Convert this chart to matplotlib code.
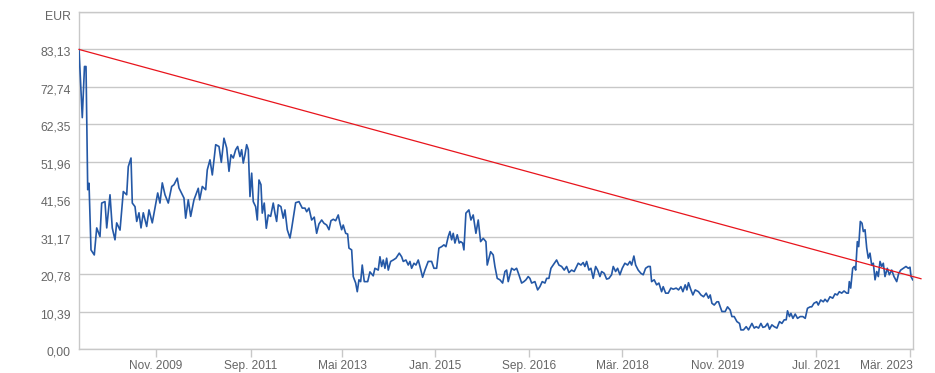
import numpy as np
import matplotlib
matplotlib.use("Agg")
import matplotlib.pyplot as plt
import matplotlib.transforms as mtrans

# Kursdaten (Zeit als Dezimaljahr, Kurs in EUR)
years = [
    2008.480, 2008.538, 2008.577, 2008.604, 2008.634, 2008.657, 2008.692, 2008.750,
    2008.793, 2008.851, 2008.881, 2008.939, 2008.970, 2009.028, 2009.068, 2009.116,
    2009.146, 2009.205, 2009.263, 2009.323, 2009.351, 2009.399, 2009.422, 2009.470,
    2009.500, 2009.540, 2009.576, 2009.616, 2009.676, 2009.717, 2009.775, 2009.823,
    2009.871, 2009.911, 2009.952, 2010.000, 2010.058, 2010.118, 2010.159, 2010.217,
    2010.247, 2010.335, 2010.365, 2010.411, 2010.454, 2010.512, 2010.588, 2010.613,
    2010.659, 2010.719, 2010.747, 2010.795, 2010.836, 2010.896, 2010.954, 2010.995,
    2011.042, 2011.090, 2011.131, 2011.166, 2011.207, 2011.249, 2011.284, 2011.325,
    2011.355, 2011.383, 2011.413, 2011.443, 2011.472, 2011.502, 2011.532, 2011.560,
    2011.602, 2011.631, 2011.661, 2011.696, 2011.719, 2011.754, 2011.790, 2011.825,
    2011.867, 2011.913, 2011.943, 2011.973, 2012.002, 2012.049, 2012.090, 2012.120,
    2012.161, 2012.209, 2012.239, 2012.267, 2012.309, 2012.368, 2012.426, 2012.474,
    2012.504, 2012.544, 2012.592, 2012.638, 2012.680, 2012.721, 2012.769, 2012.809,
    2012.857, 2012.898, 2012.933, 2012.974, 2013.016, 2013.062, 2013.092, 2013.122,
    2013.150, 2013.193, 2013.228, 2013.251, 2013.299, 2013.327, 2013.370, 2013.398,
    2013.428, 2013.458, 2013.486, 2013.522, 2013.582, 2013.622, 2013.680, 2013.710,
    2013.769, 2013.799, 2013.829, 2013.857, 2013.887, 2013.917, 2013.946, 2013.988,
    2014.034, 2014.082, 2014.140, 2014.182, 2014.211, 2014.258, 2014.299, 2014.329,
    2014.359, 2014.400, 2014.435, 2014.476, 2014.506, 2014.553, 2014.594, 2014.652,
    2014.712, 2014.753, 2014.801, 2014.841, 2014.889, 2014.930, 2014.965, 2015.006,
    2015.036, 2015.066, 2015.094, 2015.124, 2015.165, 2015.200, 2015.225, 2015.260,
    2015.283, 2015.318, 2015.371, 2015.407, 2015.447, 2015.495, 2015.536, 2015.578,
    2015.624, 2015.672, 2015.695, 2015.755, 2015.801, 2015.831, 2015.872, 2015.919,
    2015.967, 2016.008, 2016.038, 2016.066, 2016.126, 2016.172, 2016.214, 2016.255,
    2016.303, 2016.343, 2016.379, 2016.419, 2016.449, 2016.480, 2016.538, 2016.586,
    2016.626, 2016.667, 2016.715, 2016.745, 2016.785, 2016.821, 2016.861, 2016.921,
    2016.962, 2017.010, 2017.056, 2017.098, 2017.139, 2017.186, 2017.232, 2017.275,
    2017.303, 2017.351, 2017.391, 2017.421, 2017.452, 2017.492, 2017.528, 2017.568,
    2017.611, 2017.646, 2017.687, 2017.717, 2017.763, 2017.805, 2017.846, 2017.893,
    2017.922, 2017.964, 2017.999, 2018.040, 2018.081, 2018.128, 2018.176, 2018.217,
    2018.247, 2018.287, 2018.318, 2018.363, 2018.411, 2018.452, 2018.494, 2018.540,
    2018.576, 2018.600, 2018.646, 2018.689, 2018.729, 2018.777, 2018.805, 2018.848,
    2018.894, 2018.941, 2018.982, 2019.035, 2019.076, 2019.118, 2019.153, 2019.194,
    2019.224, 2019.252, 2019.295, 2019.330, 2019.371, 2019.429, 2019.472, 2019.518,
    2019.565, 2019.606, 2019.636, 2019.666, 2019.707, 2019.754, 2019.783, 2019.813,
    2019.843, 2019.901, 2019.942, 2019.989, 2020.019, 2020.060, 2020.108, 2020.154,
    2020.178, 2020.224, 2020.272, 2020.313, 2020.373, 2020.414, 2020.449, 2020.490,
    2020.532, 2020.567, 2020.608, 2020.649, 2020.684, 2020.726, 2020.767, 2020.815,
    2020.861, 2020.903, 2020.944, 2020.979, 2021.002, 2021.037, 2021.062, 2021.098,
    2021.138, 2021.179, 2021.227, 2021.274, 2021.315, 2021.355, 2021.403, 2021.430,
    2021.470, 2021.518, 2021.546, 2021.589, 2021.635, 2021.665, 2021.705, 2021.753,
    2021.801, 2021.842, 2021.882, 2021.918, 2021.960, 2022.001, 2022.048, 2022.077,
    2022.094, 2022.119, 2022.154, 2022.183, 2022.207, 2022.236, 2022.260, 2022.289,
    2022.319, 2022.342, 2022.372, 2022.402, 2022.430, 2022.460, 2022.490, 2022.519,
    2022.549, 2022.579, 2022.607, 2022.637, 2022.667, 2022.695, 2022.725, 2022.766,
    2022.801, 2022.844, 2022.884, 2022.932, 2022.967, 2023.003, 2023.049, 2023.096,
    2023.137, 2023.167, 2023.185, 2023.215,
]
prices = [
    83.1, 64.2, 78.4, 78.4, 44.2, 46.0, 27.5, 26.1,
    33.6, 31.2, 40.5, 40.9, 33.6, 42.8, 33.6, 30.3,
    35.0, 33.0, 43.7, 42.8, 50.6, 53.0, 40.5, 39.5,
    35.4, 37.8, 33.6, 37.8, 34.0, 38.6, 35.0, 39.2,
    43.3, 40.5, 46.1, 42.8, 40.5, 45.1, 45.6, 47.4,
    44.7, 41.9, 36.3, 41.4, 36.8, 41.4, 44.6, 41.4,
    45.1, 44.2, 49.7, 52.5, 48.3, 56.7, 56.2, 51.8,
    58.5, 55.8, 49.3, 53.9, 53.0, 55.3, 56.2, 53.4,
    55.3, 51.6, 53.9, 56.7, 55.3, 42.3, 48.8, 40.9,
    39.5, 35.8, 46.9, 45.6, 37.7, 40.5, 33.5, 37.2,
    36.8, 40.5, 37.7, 35.4, 40.0, 39.5, 36.3, 38.6,
    33.1, 30.8, 33.5, 36.3, 40.6, 40.9, 39.1, 39.1,
    38.1, 39.1, 35.8, 36.6, 32.1, 34.7, 35.8, 34.9,
    34.4, 33.1, 35.6, 36.0, 35.6, 37.2, 34.9, 33.1,
    34.4, 32.1, 31.9, 28.0, 27.5, 20.1, 18.3, 15.9,
    19.2, 18.7, 23.3, 18.7, 18.7, 21.4, 20.3, 22.4,
    21.9, 25.6, 22.9, 24.7, 22.4, 25.2, 21.9, 24.3,
    24.7, 25.2, 26.6, 25.6, 24.3, 24.7, 23.3, 24.3,
    22.4, 23.8, 23.3, 24.7, 22.9, 19.9, 21.9, 24.3,
    24.3, 22.4, 22.4, 28.0, 28.4, 28.9, 28.4, 31.2,
    32.6, 30.3, 32.1, 29.4, 31.7, 29.4, 29.8, 29.4,
    27.5, 37.7, 38.6, 35.8, 37.2, 32.1, 35.8, 29.8,
    30.7, 29.8, 23.3, 27.0, 26.1, 22.9, 19.6, 19.2,
    18.3, 21.5, 21.9, 18.7, 22.4, 21.9, 22.4, 20.6,
    18.3, 18.7, 19.2, 20.1, 19.6, 18.3, 18.7, 16.4,
    17.3, 18.7, 18.3, 19.6, 19.6, 22.4, 23.3, 24.7,
    23.3, 22.9, 21.9, 22.9, 21.2, 21.9, 21.5, 22.9,
    23.8, 23.3, 24.0, 22.9, 24.3, 21.9, 22.4, 19.6,
    22.9, 21.9, 20.1, 21.5, 21.0, 19.4, 19.6, 20.6,
    22.9, 21.5, 22.4, 20.6, 22.4, 23.8, 23.3, 24.3,
    23.3, 25.8, 23.3, 21.9, 21.0, 20.6, 22.4, 22.9,
    22.9, 18.7, 19.2, 17.8, 18.3, 15.9, 17.3, 15.5,
    15.5, 16.9, 16.6, 16.9, 16.4, 17.3, 15.9, 17.8,
    16.4, 18.4, 16.4, 15.0, 16.4, 15.9, 15.0, 14.5,
    15.5, 14.1, 15.0, 12.7, 12.2, 13.1, 13.1, 11.7,
    10.4, 10.4, 11.7, 10.8, 9.0, 9.0, 7.6, 7.1,
    5.3, 5.3, 6.2, 5.3, 7.1, 5.8, 6.2, 5.8,
    7.1, 6.0, 6.2, 7.1, 5.5, 6.7, 6.2, 5.8,
    7.6, 7.1, 8.1, 8.1, 10.6, 9.0, 9.9, 8.5,
    9.7, 8.5, 9.0, 9.0, 8.5, 11.3, 11.7, 11.7,
    12.7, 13.1, 12.2, 13.6, 13.1, 13.8, 13.1, 14.5,
    14.1, 15.3, 15.0, 15.9, 15.5, 16.1, 15.5, 15.5,
    18.7, 16.9, 22.4, 22.9, 21.9, 29.8, 28.4, 35.4,
    34.9, 32.6, 33.1, 28.0, 25.2, 26.6, 23.3, 23.8,
    19.2, 21.5, 20.1, 24.3, 22.9, 23.8, 20.1, 22.4,
    20.6, 21.9, 20.1, 18.7, 21.0, 21.9, 22.4, 22.9,
    22.4, 22.7, 20.1, 19.2,
]

# Trendlinie (Start- und Endpunkt)
trend_years = [2008.480, 2023.361]
trend_prices = [83.13, 19.5]

# Achsenbeschriftungen
y_ticks = [0.0, 10.39, 20.78, 31.17, 41.56, 51.96, 62.35, 72.74, 83.13, 93.52]
y_labels = ["0,00", "10,39", "20,78", "31,17", "41,56", "51,96", "62,35", "72,74", "83,13", "EUR"]
x_ticks = [2009.834, 2011.52, 2013.134, 2014.772, 2016.433, 2018.082, 2019.761, 2021.50, 2023.167]
x_labels = ["Nov. 2009", "Sep. 2011", "Mai 2013", "Jan. 2015", "Sep. 2016",
            "Mär. 2018", "Nov. 2019", "Jul. 2021", "Mär. 2023"]

plt.rcParams['font.family'] = ['Liberation Sans', 'DejaVu Sans']

fig = plt.figure(figsize=(9.35, 3.73), dpi=100)
ax = fig.add_axes([79/935, 24/373, 834/935, 337/373])

grid_col = '#c8c8c8'
ax.plot(years, prices, color='#2458a6', lw=1.2, zorder=3)
ax.plot(trend_years, trend_prices, color='#e8141c', lw=0.9, zorder=4, clip_on=False)

ax.set_xlim(2008.480, 2023.220)
ax.set_ylim(0, 93.52)

ax.set_yticks(y_ticks)
ax.set_yticklabels(y_labels)
ax.set_xticks(x_ticks)
ax.set_xticklabels(x_labels)

ax.grid(axis='y', color=grid_col, lw=1)
ax.set_axisbelow(True)
for s in ax.spines.values():
    s.set_color(grid_col)
    s.set_linewidth(1)

ax.tick_params(axis='y', length=0, pad=6, labelsize=8.8, labelcolor='#666666')
ax.tick_params(axis='x', length=6, width=1, color=grid_col, pad=2,
               labelsize=8.6, labelcolor='#666666')

# Beschriftungen der y-Achse leicht nach unten versetzen
ylabs = ax.get_yticklabels()
for i, lab in enumerate(ylabs):
    dy = -4 if i == len(ylabs) - 1 else -2
    lab.set_transform(lab.get_transform() + mtrans.ScaledTranslation(0, dy/100, fig.dpi_scale_trans))

# letzte Datumsbeschriftung innerhalb der Grafik halten
ax.get_xticklabels()[-1].set_horizontalalignment('right')
last = ax.get_xticklabels()[-1]
last.set_transform(last.get_transform() + mtrans.ScaledTranslation(3/100, 0, fig.dpi_scale_trans))

fig.savefig('out.png', dpi=100, facecolor='white')
